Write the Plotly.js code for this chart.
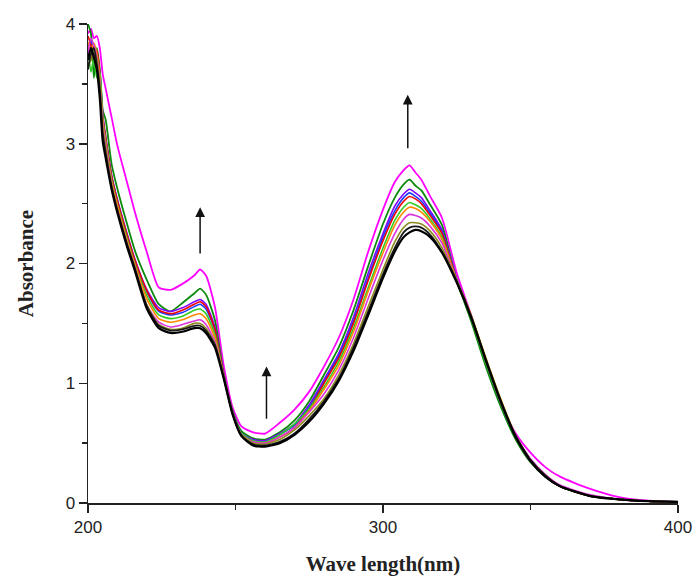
<!DOCTYPE html>
<html>
<head>
<meta charset="utf-8">
<script src="https://cdn.plot.ly/plotly-3.0.1.min.js"></script>
<style>html,body{margin:0;padding:0;background:#fff;}#chart{width:695px;height:576px;}</style>
</head>
<body>
<div id="chart"></div>
<script>
const wavelength = [200,201,202,203,204,205,206,208,210,213,
  216,220,224,228,232,236,238,240,243,246,
  249,252,256,260,265,270,275,280,285,290,
  295,300,304,307,309,311,313,316,320,325,
  330,335,340,345,350,355,360,370,380,390,400];

const absBlack = [3.70,3.80,3.72,3.62,3.38,3.02,2.88,2.62,2.42,2.16,
  1.93,1.62,1.46,1.42,1.43,1.46,1.46,1.42,1.30,1.04,
  0.74,0.56,0.48,0.47,0.50,0.57,0.68,0.83,1.02,1.27,
  1.57,1.88,2.10,2.22,2.26,2.28,2.27,2.22,2.09,1.84,
  1.54,1.18,0.84,0.55,0.35,0.22,0.14,0.06,0.03,0.015,0.01];
const absBlack2 = [3.62,3.75,3.80,3.66,3.45,3.08,2.92,2.64,2.44,2.18,
  1.95,1.64,1.48,1.44,1.45,1.48,1.48,1.44,1.32,1.05,
  0.75,0.56,0.49,0.48,0.51,0.58,0.70,0.85,1.04,1.30,
  1.60,1.91,2.13,2.26,2.30,2.31,2.30,2.24,2.10,1.85,
  1.55,1.19,0.85,0.56,0.36,0.23,0.14,0.06,0.03,0.015,0.01];
const absOlive = [3.66,3.70,3.78,3.70,3.50,3.12,2.95,2.65,2.44,2.18,
  1.95,1.65,1.49,1.45,1.46,1.50,1.50,1.46,1.33,1.05,
  0.75,0.57,0.50,0.49,0.53,0.61,0.73,0.87,1.07,1.33,
  1.64,1.95,2.18,2.30,2.34,2.34,2.33,2.27,2.13,1.86,
  1.56,1.20,0.86,0.56,0.36,0.23,0.14,0.06,0.03,0.015,0.01];
const absMagenta2 = [3.75,3.88,3.82,3.72,3.52,3.15,2.98,2.66,2.45,2.19,
  1.96,1.65,1.51,1.47,1.49,1.52,1.53,1.49,1.35,1.05,
  0.75,0.57,0.51,0.50,0.55,0.63,0.76,0.91,1.11,1.38,
  1.71,2.03,2.25,2.37,2.41,2.40,2.38,2.31,2.17,1.85,
  1.55,1.18,0.84,0.56,0.37,0.24,0.15,0.07,0.03,0.015,0.01];
const absOrange = [3.85,3.78,3.84,3.75,3.55,3.18,3.00,2.68,2.48,2.21,
  1.98,1.70,1.54,1.51,1.53,1.57,1.58,1.54,1.38,1.05,
  0.75,0.57,0.51,0.50,0.55,0.63,0.77,0.95,1.15,1.43,
  1.77,2.09,2.32,2.43,2.47,2.46,2.43,2.35,2.20,1.86,
  1.56,1.20,0.86,0.56,0.36,0.23,0.14,0.06,0.03,0.015,0.01];
const absLime = [3.80,3.60,3.72,3.55,3.60,3.20,3.02,2.70,2.49,2.23,
  1.99,1.73,1.57,1.54,1.56,1.61,1.62,1.58,1.41,1.06,
  0.75,0.58,0.52,0.51,0.57,0.66,0.79,0.97,1.18,1.46,
  1.80,2.13,2.36,2.47,2.51,2.49,2.46,2.37,2.22,1.85,
  1.53,1.16,0.83,0.55,0.35,0.22,0.14,0.06,0.03,0.015,0.01];
const absRed = [3.90,3.82,3.70,3.78,3.58,3.22,3.05,2.73,2.52,2.26,
  2.02,1.77,1.61,1.58,1.61,1.66,1.68,1.64,1.45,1.07,
  0.75,0.57,0.51,0.50,0.55,0.63,0.78,1.00,1.21,1.50,
  1.86,2.19,2.41,2.52,2.56,2.54,2.50,2.40,2.25,1.86,
  1.55,1.18,0.84,0.55,0.35,0.22,0.14,0.06,0.03,0.015,0.01];
const absBlue = [3.82,3.86,3.76,3.70,3.55,3.20,3.04,2.72,2.52,2.25,
  2.01,1.76,1.60,1.57,1.59,1.64,1.66,1.62,1.44,1.06,
  0.75,0.58,0.52,0.51,0.57,0.65,0.80,1.01,1.23,1.52,
  1.88,2.22,2.44,2.55,2.59,2.56,2.52,2.42,2.26,1.87,
  1.55,1.18,0.84,0.55,0.35,0.22,0.14,0.06,0.03,0.015,0.01];
const absViolet = [3.78,3.84,3.80,3.74,3.60,3.25,3.06,2.74,2.53,2.27,
  2.03,1.78,1.63,1.60,1.63,1.68,1.70,1.66,1.47,1.07,
  0.76,0.58,0.53,0.52,0.58,0.66,0.82,1.03,1.25,1.55,
  1.92,2.25,2.48,2.58,2.62,2.59,2.55,2.44,2.28,1.87,
  1.54,1.17,0.83,0.55,0.35,0.22,0.14,0.06,0.03,0.015,0.01];
const absGreen = [4.00,3.92,3.55,3.80,3.62,3.28,3.20,2.83,2.62,2.35,
  2.10,1.86,1.66,1.60,1.67,1.75,1.79,1.74,1.53,1.08,
  0.77,0.60,0.54,0.53,0.59,0.69,0.85,1.07,1.30,1.61,
  1.98,2.33,2.55,2.66,2.70,2.65,2.61,2.49,2.32,1.86,
  1.51,1.13,0.80,0.53,0.34,0.22,0.14,0.06,0.03,0.015,0.01];
const absMagenta = [3.92,3.96,3.88,3.90,3.80,3.58,3.46,3.22,2.98,2.70,
  2.42,2.09,1.80,1.78,1.83,1.90,1.95,1.90,1.64,1.15,
  0.80,0.64,0.59,0.58,0.67,0.78,0.93,1.14,1.38,1.70,
  2.10,2.45,2.68,2.78,2.82,2.76,2.70,2.56,2.38,1.92,
  1.56,1.16,0.82,0.58,0.42,0.30,0.22,0.12,0.05,0.02,0.01];

const seriesValues = [absMagenta, absGreen, absViolet, absBlue, absRed, absLime, absOrange, absMagenta2, absOlive, absBlack2, absBlack];
const seriesColors = ['#ff00ff', '#0a8a0a', '#7f00ff', '#1a3cff', '#ee0000', '#33cc22', '#ff8800', '#dd33dd', '#8c8a1e', '#1a1a1a', '#000000'];
const seriesWidths = [1.8, 1.8, 1.6, 1.6, 1.6, 1.6, 1.6, 1.6, 1.6, 1.8, 2.2];

const arrowX = [238, 260.5, 308.4];
const arrowTail = [2.07, 0.69, 2.95];
const arrowTip = [2.47, 1.14, 3.41];

const traces = seriesValues.map((v, i) => ({
  x: wavelength, y: v, type: 'scatter', mode: 'lines',
  line: {color: seriesColors[i], width: seriesWidths[i], shape: 'spline', smoothing: 0.6},
  hoverinfo: 'skip', showlegend: false
}));

const annotations = arrowX.map((x, i) => ({
  x: x, y: arrowTip[i], ax: x, ay: arrowTail[i],
  xref: 'x', yref: 'y', axref: 'x', ayref: 'y',
  showarrow: true, arrowhead: 2, arrowsize: 1.3, arrowwidth: 1.5, arrowcolor: '#111', text: ''
}));

const tickFont = {family: 'Liberation Sans, Arial, sans-serif', size: 17, color: '#222'};
const titleFont = {family: 'Liberation Serif, Times New Roman, serif', size: 21, color: '#222', weight: 'bold'};

const layout = {
  width: 695, height: 576,
  margin: {l: 88, r: 17, t: 24, b: 73},
  paper_bgcolor: '#fff', plot_bgcolor: '#fff',
  xaxis: {
    range: [200, 400], tick0: 200, dtick: 100,
    showgrid: false, zeroline: false,
    showline: true, linecolor: '#222', linewidth: 1.5,
    ticks: 'outside', ticklen: 8, tickwidth: 1.5, tickcolor: '#222',
    minor: {ticks: 'outside', dtick: 50, ticklen: 5, tickwidth: 1.5, tickcolor: '#222', showgrid: false},
    tickfont: tickFont,
    title: {text: 'Wave length(nm)', font: titleFont, standoff: 20},
    automargin: false
  },
  yaxis: {
    range: [0, 4], tick0: 0, dtick: 1,
    showgrid: false, zeroline: false,
    showline: true, linecolor: '#222', linewidth: 1.5,
    ticks: 'outside', ticklen: 8, tickwidth: 1.5, tickcolor: '#222',
    minor: {ticks: 'outside', dtick: 0.5, ticklen: 5, tickwidth: 1.5, tickcolor: '#222', showgrid: false},
    tickfont: tickFont,
    title: {text: 'Absorbance', font: titleFont, standoff: 26},
    automargin: false
  },
  annotations: annotations
};

Plotly.newPlot('chart', traces, layout, {displayModeBar: false, staticPlot: true});
</script>
</body>
</html>
